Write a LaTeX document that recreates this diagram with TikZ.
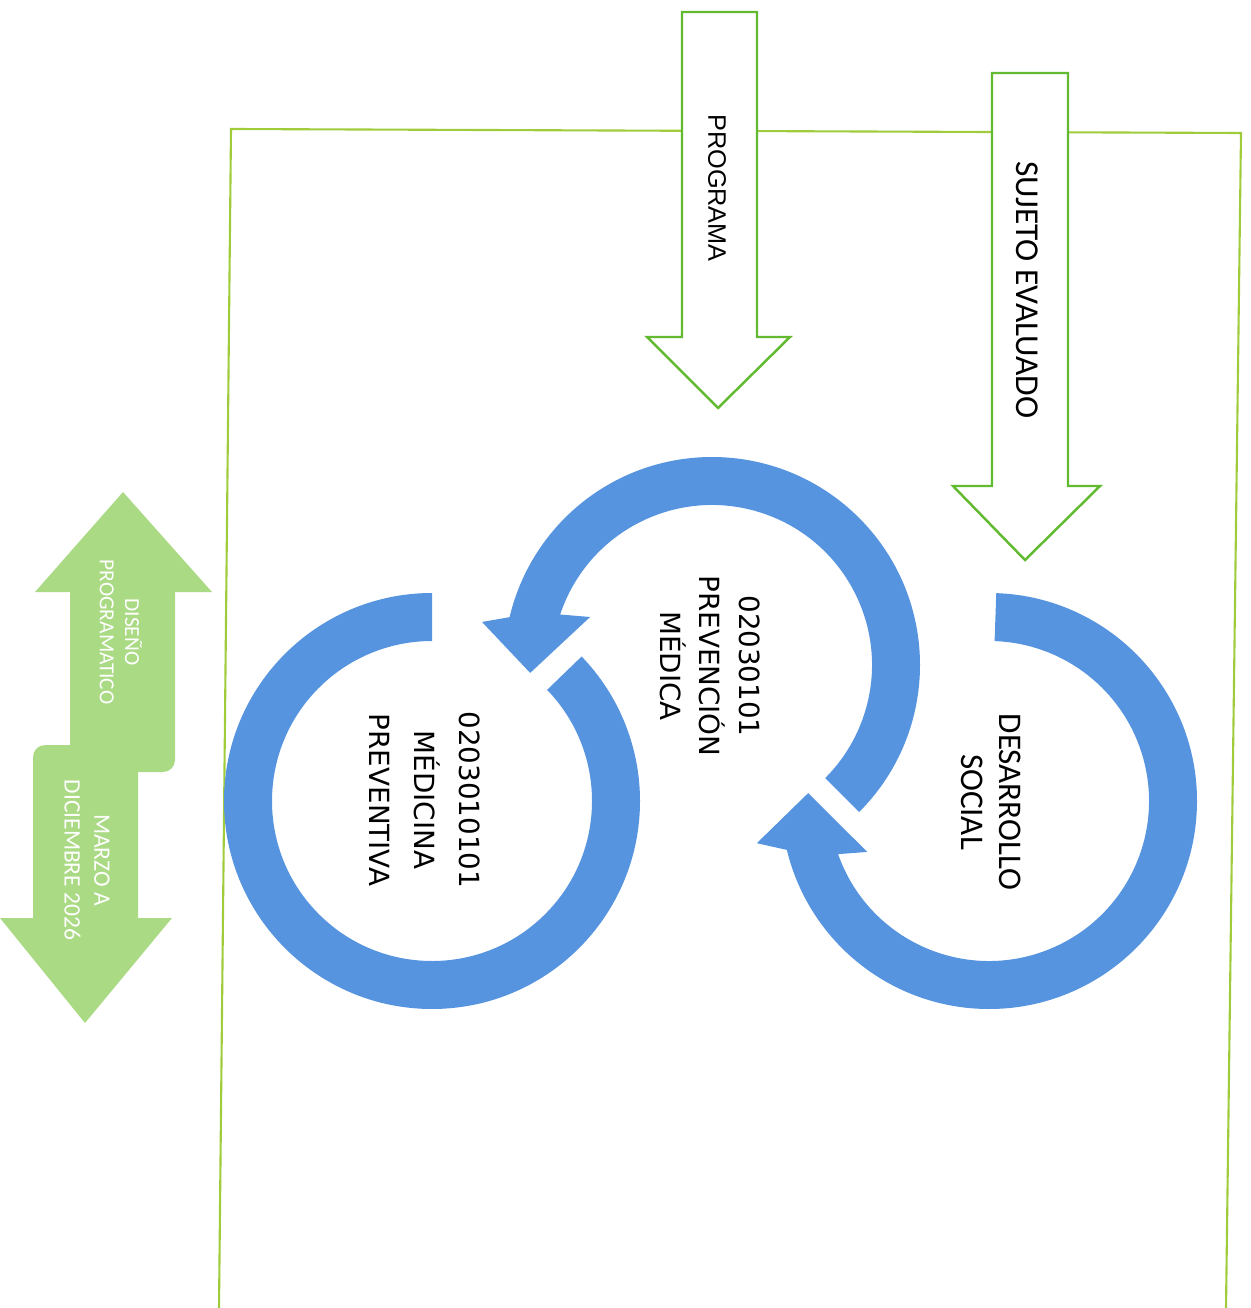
\documentclass[tikz,border=0pt]{standalone}
\usepackage{fontspec}
\setmainfont{DejaVu Sans}
\newfontfamily\calibrilike{Carlito}
\newfontfamily\ariallike{Liberation Sans}

\begin{document}
\begin{tikzpicture}[
        line join = miter
    ]

        \definecolor{ringblue}{RGB}{86,148,224}
        \definecolor{timegreen}{RGB}{170,218,132}
        \definecolor{arrowgreen}{RGB}{98,186,48}
        \definecolor{framegreen}{RGB}{160,204,60}

        \tikzset{%
            ring/.style = {%
                fill = ringblue,
                draw = none
            },
            inputarrow/.style = {%
                fill       = white,
                draw       = arrowgreen,
                line width = 0.7pt
            },
            timearrow/.style = {%
                fill = timegreen,
                draw = none
            },
            ringtext/.style = {%
                rotate = -90,
                align  = center,
                inner sep = 0pt
            },
            sidetext/.style = {%
                rotate    = -90,
                align     = center,
                inner sep = 0pt
            }
        }

        \newcommand{\ringouter}{2.08}
        \newcommand{\ringinner}{1.60}

        \useasboundingbox (0, 0) rectangle (12.51, -13.08);

        % Frame, open at the bottom
        \draw[framegreen, line width = 0.6pt] (2.19, -13.08) -- (2.31, -1.29) -- (12.41, -1.33) -- (12.26, -13.08);

        % Input arrows
        \draw[inputarrow] (6.82, -0.12) -- (7.57, -0.12) -- (7.57, -3.37) -- (7.90, -3.37)
            -- (7.18, -4.08) -- (6.47, -3.37) -- (6.82, -3.37) -- cycle;
        \node[sidetext, font = \ariallike\fontsize{7.2}{8.6}\selectfont] (programa) at (7.17, -1.88) {PROGRAMA};

        \draw[inputarrow] (9.92, -0.73) -- (10.68, -0.73) -- (10.68, -4.86) -- (11.00, -4.86)
            -- (10.25, -5.60) -- (9.53, -4.86) -- (9.92, -4.86) -- cycle;
        \node[sidetext, font = \calibrilike\fontsize{9.5}{11}\selectfont] (sujeto) at (10.27, -2.90) {SUJETO EVALUADO};

        % Left ring
        \begin{scope}[shift = {(4.32, -8.01)}]
            \fill[ring] (90:\ringouter) arc[start angle = 90, end angle = 404, radius = \ringouter]
                -- (404:\ringinner) arc[start angle = 404, end angle = 90, radius = \ringinner] -- cycle;
        \end{scope}

        % Middle ring
        \begin{scope}[shift = {(7.12, -6.65)}]
            \fill[ring] (-45:\ringouter) arc[start angle = -45, end angle = 166.7, radius = \ringouter]
                -- (169.4:2.34) -- (182.5:1.82) -- (158.5:1.31)
                -- (161.6:\ringinner) arc[start angle = 161.6, end angle = -45, radius = \ringinner] -- cycle;
        \end{scope}

        % Right ring
        \begin{scope}[shift = {(9.89, -8.01)}]
            \fill[ring] (88:\ringouter) arc[start angle = 88, end angle = -166.4, radius = \ringouter]
                -- (-169.7:2.36) -- (-182.5:1.81) -- (-157.3:1.32)
                -- (-160.6:\ringinner) arc[start angle = -160.6, end angle = 88, radius = \ringinner] -- cycle;
        \end{scope}

        \node[ringtext, font = \fontsize{7.9}{12.8}\selectfont] (preventiva) at (4.25, -8.00) {0203010101\\MÉDICINA\\PREVENTIVA};
        \node[ringtext, font = \fontsize{7.9}{11.2}\selectfont] (prevencion) at (7.10, -6.66) {02030101\\PREVENCIÓN\\MÉDICA};
        \node[ringtext, font = \calibrilike\fontsize{9.4}{10.8}\selectfont] (desarrollo) at (9.91, -8.02) {DESARROLLO\\SOCIAL};

        % Time line arrows
        \fill[timearrow] (1.23, -4.92) -- (2.12, -5.92) -- (1.75, -5.92)
            [rounded corners = 0.12cm] -- (1.75, -7.72) -- (0.70, -7.72) [sharp corners]
            -- (0.70, -5.92) -- (0.35, -5.92) -- cycle;
        \fill[timearrow] (0.85, -10.23) -- (1.72, -9.18) -- (1.38, -9.18)
            [rounded corners = 0.12cm] -- (1.38, -7.45) -- (0.33, -7.45) [sharp corners]
            -- (0.33, -9.18) -- (0.00, -9.18) -- cycle;

        \node[sidetext, text = white, font = \calibrilike\fontsize{6.1}{7.2}\selectfont] (diseno) at (1.21, -6.32) {DISEÑO\\PROGRAMATICO};
        \node[sidetext, text = white, font = \calibrilike\fontsize{6.7}{8.5}\selectfont] (periodo) at (0.87, -8.60) {MARZO A\\DICIEMBRE 2026};

    \end{tikzpicture}
\end{document}
